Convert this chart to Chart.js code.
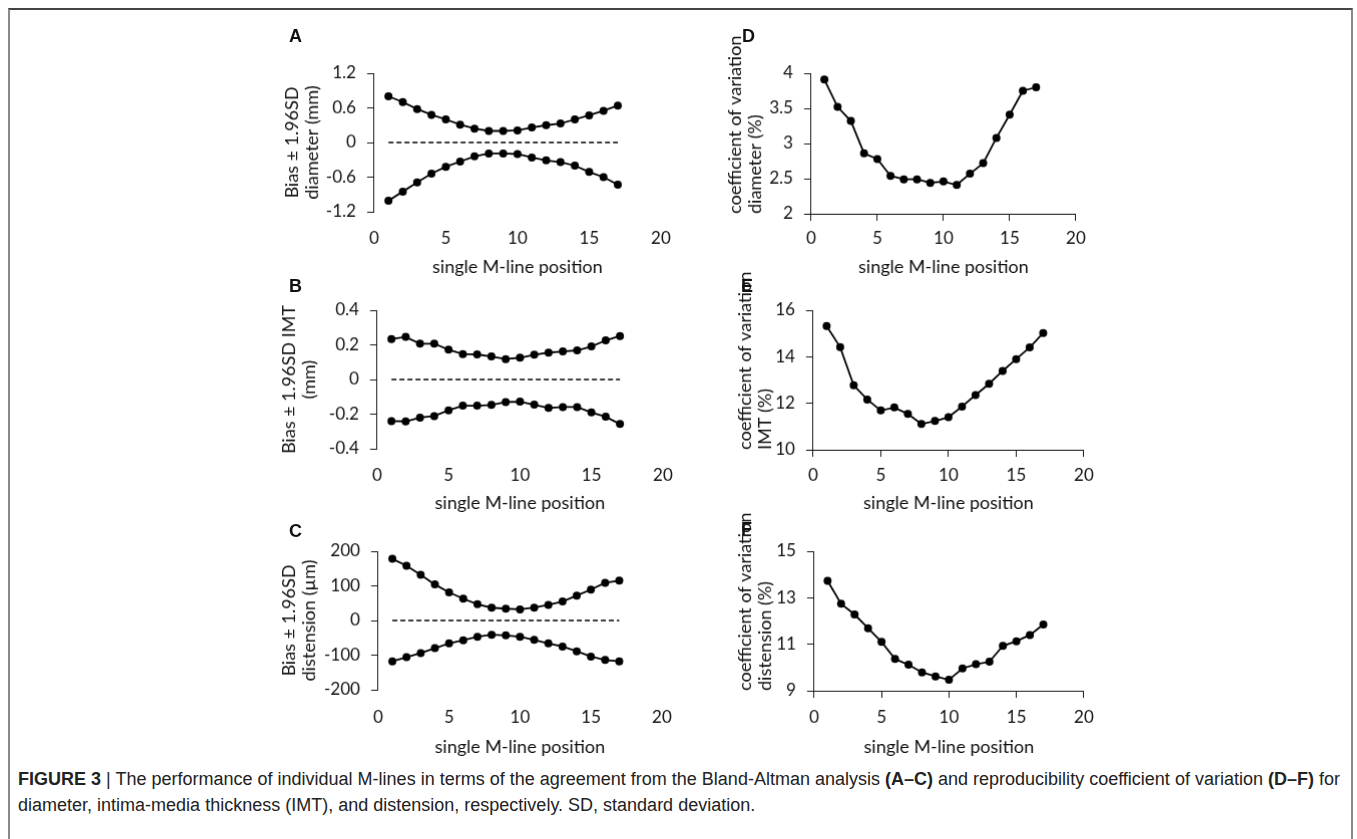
<!DOCTYPE html>
<html><head><meta charset="utf-8">
<script src="https://cdn.jsdelivr.net/npm/chart.js@4.4.1/dist/chart.umd.min.js"></script>
<style>
html,body{margin:0;padding:0;background:#fff;}
body{width:1357px;height:839px;position:relative;overflow:hidden;font-family:Lato,sans-serif;}
.frame{position:absolute;left:8px;top:8px;width:1341px;height:900px;border:2px solid #8a8a8a;border-top-color:#444;box-sizing:content-box;}
.box{position:absolute;}
.letter{position:absolute;font:bold 18px "Liberation Sans",Arial,sans-serif;line-height:20px;color:#111;z-index:5;background:transparent;}
.cap{position:absolute;left:18px;white-space:nowrap;font-family:"Liberation Sans Narrow","Arial Narrow","Liberation Sans",sans-serif;font-size:18px;line-height:20px;color:#222;transform-origin:0 50%;}
.cap b{font-weight:bold;}
</style></head>
<body>
<div class="frame"></div>
<div id="A" class="box"><canvas></canvas></div>
<div id="B" class="box"><canvas></canvas></div>
<div id="C" class="box"><canvas></canvas></div>
<div id="D" class="box"><canvas></canvas></div>
<div id="E" class="box"><canvas></canvas></div>
<div id="F" class="box"><canvas></canvas></div>
<div class="letter" style="left:289px;top:26px;">A</div>
<div class="letter" style="left:289px;top:276px;">B</div>
<div class="letter" style="left:289px;top:521px;">C</div>
<div class="letter" style="left:742px;top:26px;">D</div>
<div class="letter" style="left:741px;top:276px;">E</div>
<div class="letter" style="left:741px;top:519px;">F</div>
<div id="cap1" class="cap" style="top:769px;"><b>FIGURE 3</b> | The performance of individual M-lines in terms of the agreement from the Bland-Altman analysis <b>(A–C)</b> and reproducibility coefficient of variation <b>(D–F)</b> for</div>
<div id="cap2" class="cap" style="top:795px;">diameter, intima-media thickness (IMT), and distension, respectively. SD, standard deviation.</div>
<script>
// ---------- data ----------
const positions = [1,2,3,4,5,6,7,8,9,10,11,12,13,14,15,16,17];
const xTicks = [0,5,10,15,20];
const xTitle = 'single M-line position';

const diamUpper = [0.80,0.70,0.58,0.48,0.40,0.31,0.24,0.20,0.20,0.21,0.26,0.30,0.33,0.40,0.47,0.55,0.64];
const diamBias  = [0,0,0,0,0,0,0,0,0,0,0,0,0,0,0,0,0];
const diamLower = [-1.01,-0.85,-0.69,-0.54,-0.42,-0.33,-0.24,-0.19,-0.19,-0.20,-0.26,-0.31,-0.34,-0.40,-0.51,-0.60,-0.73];

const imtUpper = [0.234,0.246,0.207,0.207,0.172,0.147,0.145,0.133,0.118,0.126,0.143,0.155,0.162,0.168,0.191,0.226,0.251];
const imtBias  = [0,0,0,0,0,0,0,0,0,0,0,0,0,0,0,0,0];
const imtLower = [-0.240,-0.242,-0.220,-0.211,-0.178,-0.151,-0.151,-0.147,-0.130,-0.128,-0.145,-0.164,-0.159,-0.159,-0.190,-0.215,-0.257];

const distUpper = [178,158,132,104,81,63,47,37,34,32,37,45,55,72,89,109,115];
const distBias  = [0,0,0,0,0,0,0,0,0,0,0,0,0,0,0,0,0];
const distLower = [-118,-106,-94,-80,-66,-57,-47,-41,-43,-47,-56,-66,-75,-89,-104,-114,-118];

const cvDiam = [3.91,3.52,3.32,2.86,2.78,2.54,2.49,2.49,2.44,2.46,2.41,2.57,2.72,3.08,3.41,3.75,3.80];
const cvImt  = [15.32,14.41,12.77,12.16,11.69,11.82,11.54,11.11,11.24,11.40,11.86,12.35,12.84,13.39,13.90,14.40,15.02];
const cvDist = [13.73,12.74,12.28,11.69,11.10,10.37,10.12,9.79,9.62,9.47,9.96,10.14,10.25,10.93,11.13,11.40,11.85];

const yTicksA = [-1.2,-0.6,0,0.6,1.2];
const yTicksB = [-0.4,-0.2,0,0.2,0.4];
const yTicksC = [-200,-100,0,100,200];
const yTicksD = [2,2.5,3,3.5,4];
const yTicksE = [10,12,14,16];
const yTicksF = [9,11,13,15];

const yTitleA = ['Bias \u00b1 1.96SD','diameter (mm)'];
const yTitleB = ['Bias \u00b1 1.96SD IMT','(mm)'];
const yTitleC = ['Bias \u00b1 1.96SD','distension (\u00b5m)'];
const yTitleD = ['coefficient of variation','diameter (%)'];
const yTitleE = ['coefficient of variation','IMT (%)'];
const yTitleF = ['coefficient of variation','distension (%)'];

// ---------- layout (pixels) ----------
const geom = {
  A:{axisX:374, top:73,  bottom:211, right:660,  t1:292, lblY:238, ttlY:266, xAxis:false, yAlign:'center'},
  B:{axisX:377, top:310, bottom:448, right:662,  t1:289, lblY:475, ttlY:502, xAxis:false, yAlign:'center'},
  C:{axisX:378, top:551, bottom:689, right:661,  t1:289, lblY:717, ttlY:746, xAxis:false, yAlign:'center'},
  D:{axisX:811, top:73,  bottom:213, right:1075, t1:735, lblY:238, ttlY:266, xAxis:true,  yAlign:'start'},
  E:{axisX:813, top:310, bottom:449, right:1083, t1:745, lblY:475, ttlY:502, xAxis:true,  yAlign:'start'},
  F:{axisX:814, top:551, bottom:690, right:1083, t1:745, lblY:717, ttlY:746, xAxis:true,  yAlign:'start'}
};

const AX = '#1a1a1a';
const TXT = '#111';
const padT = 50, padR = 45;
const tickFont = {family:'Lato', size:17, lineHeight:1.2};
const xTitleFont = {family:'Lato', size:18, lineHeight:1.2};
const yTitleFont = {family:'Lato', size:18, lineHeight:1.1};
const TL = 7;

function pts(ys){ return positions.map((x,i)=>({x:x, y:ys[i]})); }
function solid(ys){ return {data:pts(ys), borderColor:'#000', backgroundColor:'#000', borderWidth:1.8, pointRadius:4, pointBorderWidth:0, pointBackgroundColor:'#000', tension:0}; }
function dashed(ys){ return {data:pts(ys), borderColor:'#000', borderWidth:1.4, borderDash:[5,3], pointRadius:0, tension:0}; }

function make(id, datasets, yTicks, yTitle){
  const g = geom[id];
  const yLH = yTitleFont.size * yTitleFont.lineHeight;
  const xLH = xTitleFont.size * xTitleFont.lineHeight;
  const left = g.t1 - yLH / 2;
  const Wy = g.axisX - left;
  const plotW = g.right - g.axisX;
  const plotH = g.bottom - g.top;
  const Hx = g.ttlY + xLH / 2 - g.bottom;
  const box = document.getElementById(id);
  box.style.left = left + 'px';
  box.style.top = (g.top - padT) + 'px';
  box.style.width = (Wy + plotW + padR) + 'px';
  box.style.height = (padT + plotH + Hx) + 'px';
  const xPad = g.lblY - g.bottom - (g.xAxis ? TL : 0) - tickFont.size * tickFont.lineHeight / 2;
  new Chart(box.querySelector('canvas'), {
    type:'line',
    data:{datasets:datasets},
    options:{
      responsive:true, maintainAspectRatio:false, animation:false,
      layout:{padding:{left:0, top:padT, right:padR, bottom:0}},
      plugins:{legend:{display:false}, tooltip:{enabled:false}},
      scales:{
        x:{type:'linear', min:0, max:20,
          afterBuildTicks:s=>{ s.ticks = xTicks.map(v=>({value:v})); },
          afterFit:s=>{ s.height = Hx; },
          grid:{display:g.xAxis, drawOnChartArea:false, drawTicks:g.xAxis, tickLength:TL, color:AX, lineWidth:1},
          border:{display:g.xAxis, color:AX, width:1},
          ticks:{padding:xPad, color:TXT, font:tickFont, maxRotation:0, autoSkip:false, callback:v=>String(v)},
          title:{display:true, text:xTitle, font:xTitleFont, padding:0, color:TXT}
        },
        y:{type:'linear', min:yTicks[0], max:yTicks[yTicks.length-1],
          afterBuildTicks:s=>{ s.ticks = yTicks.map(v=>({value:v})); },
          afterFit:s=>{ s.width = Wy; },
          grid:{display:true, drawOnChartArea:false, drawTicks:true, tickLength:TL, color:AX, lineWidth:1},
          border:{display:true, color:AX, width:1},
          ticks:{padding:11, color:TXT, font:tickFont, autoSkip:false, callback:v=>String(v)},
          title:{display:true, text:yTitle, font:yTitleFont, padding:0, color:TXT, align:g.yAlign}
        }
      }
    }
  });
}

make('A', [dashed(diamBias), solid(diamUpper), solid(diamLower)], yTicksA, yTitleA);
make('B', [dashed(imtBias), solid(imtUpper), solid(imtLower)], yTicksB, yTitleB);
make('C', [dashed(distBias), solid(distUpper), solid(distLower)], yTicksC, yTitleC);
make('D', [solid(cvDiam)], yTicksD, yTitleD);
make('E', [solid(cvImt)], yTicksE, yTitleE);
make('F', [solid(cvDist)], yTicksF, yTitleF);

// fit caption line 1 to its width in the figure
(function(){
  const c1 = document.getElementById('cap1'), c2 = document.getElementById('cap2');
  const w = c1.getBoundingClientRect().width;
  const s = 1322 / w;
  c1.style.transform = 'scaleX(' + s + ')';
  c2.style.transform = 'scaleX(' + s + ')';
})();
</script>
</body></html>
